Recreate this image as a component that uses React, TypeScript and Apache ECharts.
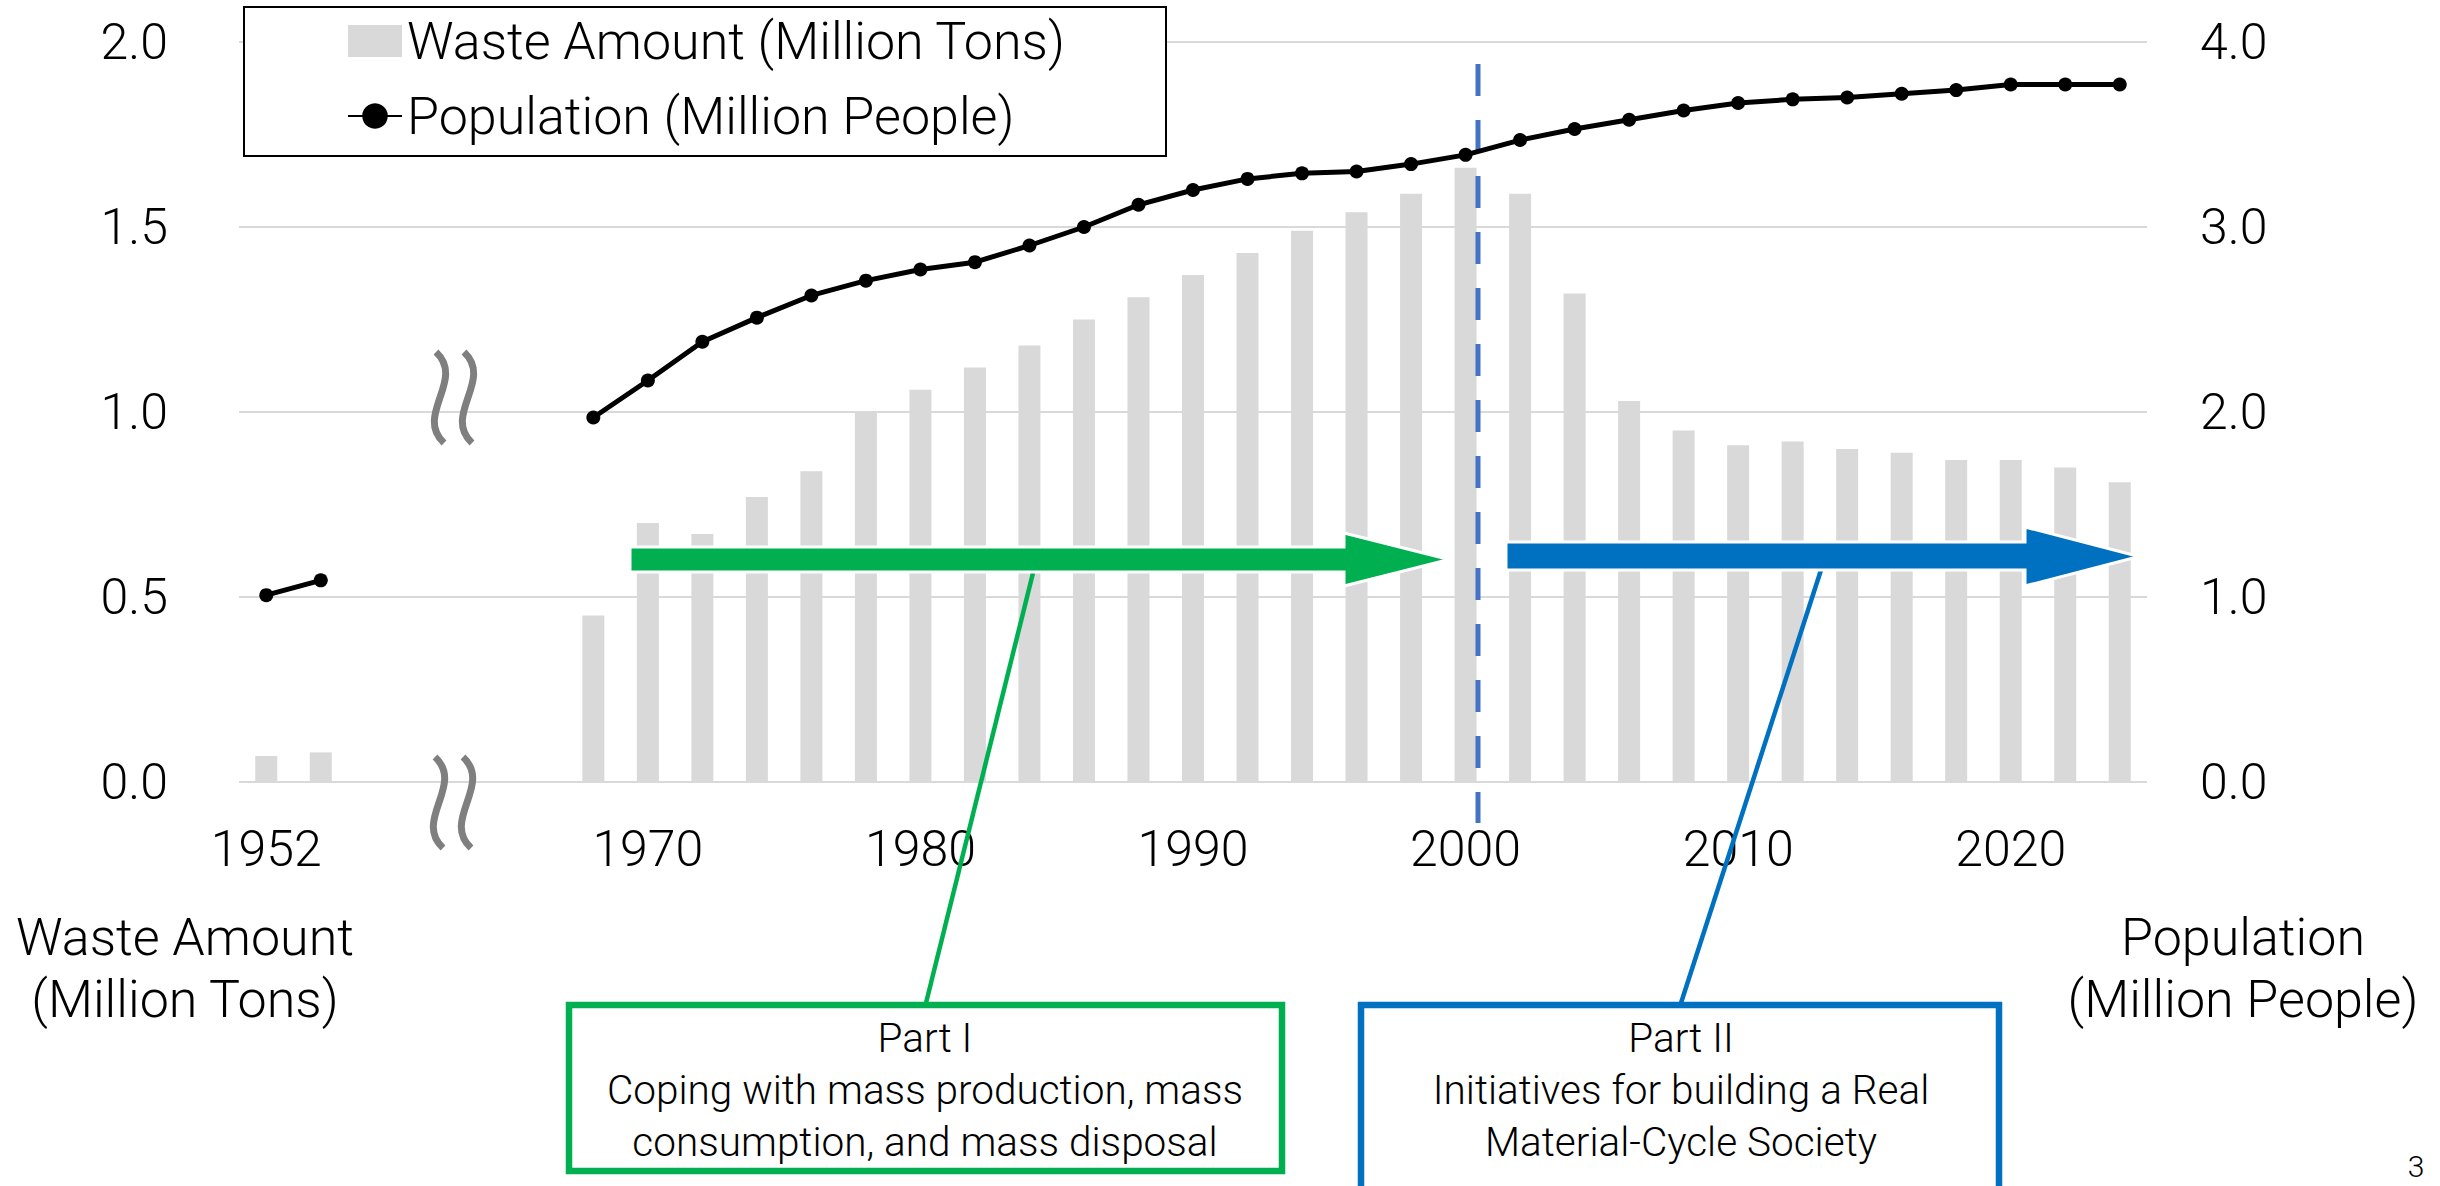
import React, { useEffect, useRef } from "react";
import * as echarts from "echarts";

// ---- data ----
const years = [
  "1952", "1954", "gap1", "gap2", "gap3", "gap4",
  "1968", "1970", "1972", "1974", "1976", "1978", "1980", "1982", "1984", "1986", "1988", "1990",
  "1992", "1994", "1996", "1998", "2000", "2002", "2004", "2006", "2008", "2010", "2012", "2014",
  "2016", "2018", "2020", "2022", "2024",
];
const xTickLabels = ["1952", "1970", "1980", "1990", "2000", "2010", "2020"];

const wasteAmount = [
  0.07, 0.08, null, null, null, null,
  0.45, 0.70, 0.67, 0.77, 0.84, 1.00, 1.06, 1.12, 1.18, 1.25, 1.31, 1.37,
  1.43, 1.49, 1.54, 1.59, 1.66, 1.59, 1.32, 1.03, 0.95, 0.91, 0.92, 0.90,
  0.89, 0.87, 0.87, 0.85, 0.81,
];
const population = [
  1.01, 1.09, null, null, null, null,
  1.97, 2.17, 2.38, 2.51, 2.63, 2.71, 2.77, 2.81, 2.90, 3.00, 3.12, 3.20,
  3.26, 3.29, 3.30, 3.34, 3.39, 3.47, 3.53, 3.58, 3.63, 3.67, 3.69, 3.70,
  3.72, 3.74, 3.77, 3.77, 3.77,
];

const seriesNames = ["Waste Amount (Million Tons)", "Population (Million People)"];
const leftTitle = "Waste Amount\n(Million Tons)";
const rightTitle = "Population\n(Million People)";
const part1Text = "Part I\nCoping with mass production, mass\nconsumption, and mass disposal";
const part2Text = "Part II\nInitiatives for building a Real\nMaterial-Cycle Society";

const FONT = "Roboto, 'Noto Sans', sans-serif";
const FW = 300;
const GREEN = "#00B050";
const BLUE = "#0070C0";
const GREY_BREAK = "#7F7F7F";

function breakMark(x: number, y: number) {
  const curve = (dx: number) => ({
    type: "bezierCurve",
    z: 6,
    shape: {
      x1: x + dx, y1: y,
      cpx1: x + dx + 30, cpy1: y + 28,
      cpx2: x + dx - 22, cpy2: y + 63,
      x2: x + dx + 8, y2: y + 91,
    },
    style: { stroke: GREY_BREAK, lineWidth: 7, fill: "none", lineCap: "butt" },
  });
  return [curve(0), curve(28)];
}

function textEl(text: string, x: number, y: number, fontSize: number, lineHeight: number) {
  return {
    type: "text",
    z: 7,
    style: {
      text,
      x,
      y,
      fill: "#000",
      fontSize,
      fontFamily: FONT,
      fontWeight: FW,
      lineHeight,
      align: "center",
      verticalAlign: "middle",
    },
  };
}

export default function App() {
  const ref = useRef<HTMLDivElement>(null);

  useEffect(() => {
    if (!ref.current) return;
    const chart = echarts.init(ref.current, null, { renderer: "svg" });

    const yLabel = (margin: number) => ({
      formatter: (v: number) => v.toFixed(1),
      fontSize: 50,
      color: "#000",
      margin,
      fontFamily: FONT,
      fontWeight: FW,
      padding: [0, 0, 8, 0],
    });

    const option: any = {
      animation: false,
      backgroundColor: "#fff",
      textStyle: { fontFamily: FONT, fontWeight: FW },
      grid: { left: 239, right: 293, top: 42, bottom: 404, containLabel: false },
      legend: {
        orient: "vertical",
        left: 342,
        top: 8,
        itemWidth: 54,
        itemHeight: 32,
        itemGap: 19,
        z: 5,
        textStyle: { fontSize: 52, color: "#000", lineHeight: 56, fontFamily: FONT, fontWeight: FW },
        data: [
          { name: seriesNames[0], icon: "rect" },
          { name: seriesNames[1] },
        ],
      },
      xAxis: {
        type: "category",
        data: years,
        axisLine: { show: false },
        axisTick: { show: false },
        splitLine: { show: false },
        axisLabel: {
          interval: (_i: number, v: string) => xTickLabels.includes(v),
          fontSize: 50,
          color: "#000",
          margin: 42,
          fontFamily: FONT,
          fontWeight: FW,
        },
      },
      yAxis: [
        {
          type: "value",
          min: 0,
          max: 2,
          interval: 0.5,
          position: "left",
          axisLine: { show: false },
          axisTick: { show: false },
          splitLine: { lineStyle: { color: "#D9D9D9", width: 2 } },
          axisLabel: yLabel(71),
        },
        {
          type: "value",
          min: 0,
          max: 4,
          interval: 1,
          position: "right",
          axisLine: { show: false },
          axisTick: { show: false },
          splitLine: { show: false },
          axisLabel: yLabel(53),
        },
      ],
      series: [
        {
          name: seriesNames[0],
          type: "bar",
          yAxisIndex: 0,
          data: wasteAmount,
          barWidth: 22,
          itemStyle: { color: "#D9D9D9" },
          z: 2,
        },
        {
          name: seriesNames[1],
          type: "line",
          yAxisIndex: 1,
          data: population,
          connectNulls: false,
          symbol: "circle",
          symbolSize: 14,
          showSymbol: true,
          showAllSymbol: true,
          lineStyle: { color: "#000", width: 5 },
          itemStyle: { color: "#000" },
          z: 4,
        },
      ],
      graphic: [
        // legend frame
        {
          type: "rect",
          z: 3,
          shape: { x: 244, y: 7, width: 922, height: 149 },
          style: { fill: "#fff", stroke: "#000", lineWidth: 2 },
        },
        // dashed divider at 2000
        {
          type: "line",
          z: 3,
          shape: { x1: 1478, y1: 64, x2: 1478, y2: 823 },
          style: { stroke: "#4472C4", lineWidth: 5, lineDash: [32, 24], lineCap: "butt" },
        },
        // callout lines
        {
          type: "line",
          z: 5,
          shape: { x1: 1033, y1: 573, x2: 926, y2: 1003 },
          style: { stroke: GREEN, lineWidth: 4.5 },
        },
        {
          type: "line",
          z: 5,
          shape: { x1: 1821, y1: 570, x2: 1681, y2: 1003 },
          style: { stroke: BLUE, lineWidth: 4.5 },
        },
        // arrows
        {
          type: "polygon",
          z: 6,
          shape: {
            points: [[630, 547], [1344, 547], [1344, 533], [1449, 559.5], [1344, 586], [1344, 572], [630, 572]],
          },
          style: { fill: GREEN, stroke: "#fff", lineWidth: 3 },
        },
        {
          type: "polygon",
          z: 6,
          shape: {
            points: [[1506, 542], [2025, 542], [2025, 527], [2139, 556.5], [2025, 586], [2025, 570], [1506, 570]],
          },
          style: { fill: BLUE, stroke: "#fff", lineWidth: 3 },
        },
        // boxes
        {
          type: "rect",
          z: 6,
          shape: { x: 569, y: 1005, width: 713, height: 166 },
          style: { fill: "#fff", stroke: GREEN, lineWidth: 6.5 },
        },
        {
          type: "rect",
          z: 6,
          shape: { x: 1361, y: 1005, width: 638, height: 200 },
          style: { fill: "#fff", stroke: BLUE, lineWidth: 6.5 },
        },
        textEl(part1Text, 925, 1090, 40.5, 52),
        textEl(part2Text, 1681, 1090, 40.5, 52),
        // axis titles
        textEl(leftTitle, 185, 968, 52, 62),
        textEl(rightTitle, 2243, 968, 52, 62),
        // page number
        textEl("3", 2416, 1166, 30, 34),
        // axis break marks
        ...breakMark(436, 352),
        ...breakMark(435, 757),
      ],
    };

    chart.setOption(option);
    return () => chart.dispose();
  }, []);

  return (
    <div
      ref={ref}
      style={{ position: "fixed", left: 0, top: 0, width: 2440, height: 1186, background: "#fff" }}
    />
  );
}
